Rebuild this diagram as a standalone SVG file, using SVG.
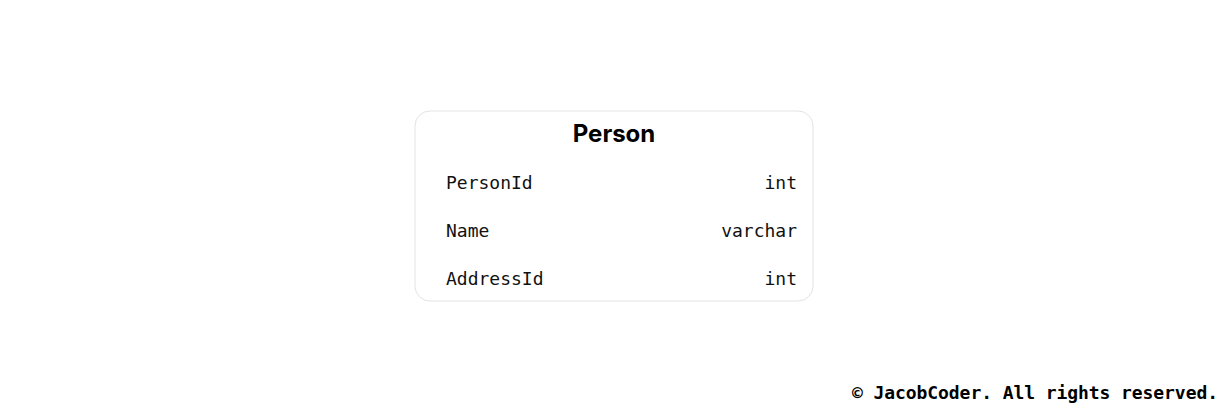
<svg xmlns="http://www.w3.org/2000/svg" width="1228" height="412" viewBox="0 0 1228 412">
<style>
.title{font-family:Inter,"Noto Sans",sans-serif;font-weight:700;font-size:24px;fill:#000}
.f{font-family:"DejaVu Sans Mono","Liberation Mono",monospace;font-size:18px;fill:#111}
.foot{font-family:"DejaVu Sans Mono","Liberation Mono",monospace;font-weight:700;font-size:18px;fill:#000}
</style>
<rect width="1228" height="412" fill="#fff"/>
<g id="person">
<rect x="415" y="111" width="398" height="190" rx="15" fill="#fff" stroke="#e3e3e3" stroke-width="1"/>
<text class="title" x="614" y="142" text-anchor="middle">Person</text>
<text class="f" x="446" y="189">PersonId</text>
<text class="f" x="797" y="189" text-anchor="end">int</text>
<text class="f" x="446" y="237">Name</text>
<text class="f" x="797" y="237" text-anchor="end">varchar</text>
<text class="f" x="446" y="285">AddressId</text>
<text class="f" x="797" y="285" text-anchor="end">int</text>
</g>
<g id="connectors"/>
<text class="foot" x="1218" y="399" text-anchor="end" textLength="366">© JacobCoder. All rights reserved.</text>
</svg>
